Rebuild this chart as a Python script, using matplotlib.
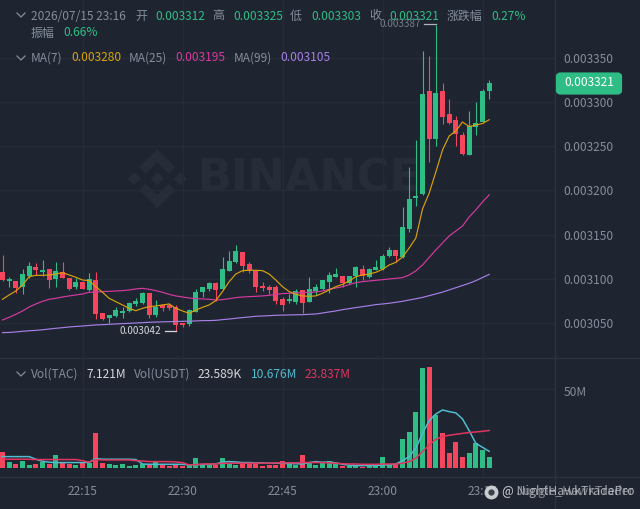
import matplotlib
matplotlib.use('Agg')
import matplotlib.pyplot as plt
import numpy as np
from matplotlib.patches import FancyBboxPatch, Polygon
from matplotlib.lines import Line2D
from matplotlib.transforms import ScaledTranslation

plt.rcParams['font.family'] = ['Noto Sans CJK SC', 'DejaVu Sans']

# minutes after 22:00, one candle per minute. prices are in 1e-6 units
minutes = list(range(3, 77))

opens = [3107.4, 3097.6, 3097.9, 3090.4, 3103.2, 3113.1, 3107.4, 3111.2, 3099.5, 3107.8,
         3101.0, 3090.4, 3096.5, 3087.4, 3098.7, 3061.0, 3056.0, 3058.0, 3061.4, 3063.7,
         3072.0, 3072.7, 3084.4, 3059.1, 3070.5, 3070.0, 3067.8, 3050.4, 3049.0, 3062.9,
         3085.5, 3088.2, 3095.5, 3088.2, 3109.2, 3119.0, 3130.0, 3116.5, 3109.2, 3092.3,
         3091.2, 3091.2, 3077.6, 3074.6, 3073.8, 3087.1, 3074.2, 3086.6, 3088.2, 3096.8,
         3102.4, 3103.2, 3095.7, 3103.0, 3111.2, 3102.4, 3110.0, 3110.8, 3125.9, 3132.6,
         3125.0, 3156.0, 3191.0, 3196.0, 3312.0, 3257.8, 3312.0, 3287.0, 3279.7, 3262.7,
         3240.0, 3271.4, 3277.4, 3312.0]
highs = [3127.0, 3102.4, 3098.0, 3110.8, 3118.7, 3118.3, 3121.3, 3111.2, 3118.7, 3118.7,
         3101.0, 3101.3, 3098.0, 3106.3, 3107.4, 3061.5, 3059.0, 3067.9, 3068.5, 3073.5,
         3078.7, 3085.0, 3084.4, 3076.0, 3071.6, 3072.5, 3070.0, 3050.4, 3065.5, 3088.0,
         3090.4, 3096.0, 3096.0, 3124.4, 3131.5, 3138.0, 3130.0, 3118.7, 3110.0, 3096.8,
         3093.4, 3093.5, 3079.0, 3082.9, 3088.2, 3087.1, 3101.8, 3094.2, 3099.0, 3107.4,
         3112.6, 3103.2, 3103.5, 3114.0, 3115.7, 3112.0, 3121.3, 3128.0, 3135.7, 3132.6,
         3181.0, 3226.8, 3257.0, 3358.0, 3352.0, 3387.0, 3322.0, 3303.0, 3284.0, 3266.5,
         3290.0, 3300.0, 3314.5, 3325.0]
lows = [3098.0, 3090.4, 3084.0, 3083.0, 3100.7, 3104.4, 3103.2, 3090.0, 3091.2, 3101.0,
        3087.4, 3088.9, 3088.0, 3086.6, 3054.6, 3053.0, 3049.7, 3057.0, 3055.7, 3062.5,
        3069.0, 3072.0, 3056.0, 3057.0, 3063.7, 3065.0, 3041.0, 3046.0, 3047.0, 3062.5,
        3080.0, 3086.0, 3075.0, 3087.4, 3108.6, 3118.3, 3107.4, 3106.3, 3085.5, 3086.0,
        3083.0, 3072.0, 3064.0, 3072.4, 3071.6, 3061.0, 3073.8, 3081.4, 3087.4, 3084.3,
        3102.0, 3091.0, 3094.0, 3091.0, 3098.7, 3101.5, 3109.7, 3110.0, 3125.0, 3118.7,
        3124.0, 3153.0, 3182.8, 3195.0, 3231.8, 3250.0, 3275.0, 3275.0, 3250.0, 3240.0,
        3240.0, 3262.7, 3277.0, 3303.0]
closes = [3098.7, 3099.5, 3089.3, 3105.5, 3114.5, 3110.0, 3109.7, 3098.4, 3108.9, 3101.3,
          3089.0, 3096.5, 3089.0, 3100.2, 3060.3, 3054.3, 3059.0, 3064.4, 3063.3, 3072.7,
          3075.0, 3084.4, 3059.5, 3068.5, 3067.0, 3066.5, 3047.8, 3048.2, 3064.8, 3085.1,
          3090.4, 3095.0, 3087.8, 3110.8, 3120.2, 3131.5, 3114.5, 3109.2, 3091.2, 3089.7,
          3087.4, 3075.3, 3070.8, 3077.2, 3086.3, 3073.0, 3088.9, 3090.4, 3098.4, 3104.4,
          3105.5, 3095.0, 3103.2, 3113.4, 3103.0, 3111.2, 3113.4, 3126.2, 3132.6, 3125.9,
          3158.3, 3190.0, 3193.5, 3308.7, 3257.8, 3310.5, 3283.4, 3276.6, 3263.5, 3241.2,
          3273.0, 3276.0, 3312.0, 3321.0]

ma7 = [3076.9, 3081.8, 3086.3, 3093.1, 3102.5, 3104.0, 3104.0, 3104.4, 3105.5, 3107.0,
       3104.4, 3101.8, 3098.7, 3098.0, 3091.2, 3084.8, 3078.0, 3074.2, 3070.5, 3066.7,
       3064.0, 3066.7, 3068.6, 3069.3, 3070.5, 3071.6, 3066.7, 3063.7, 3061.0, 3064.8,
       3067.8, 3070.5, 3075.4, 3085.6, 3096.9, 3105.5, 3109.3, 3109.7, 3109.7, 3109.3,
       3105.5, 3098.7, 3091.2, 3085.6, 3082.5, 3080.7, 3080.3, 3080.7, 3083.7, 3087.4,
       3091.2, 3093.8, 3097.6, 3102.5, 3104.4, 3105.5, 3107.4, 3110.8, 3115.7, 3118.7,
       3124.7, 3134.9, 3146.2, 3179.0, 3197.0, 3220.9, 3245.7, 3261.6, 3267.2, 3277.4,
       3272.3, 3274.0, 3275.7, 3280.0]
ma25 = [3053.5, 3056.5, 3059.9, 3063.7, 3068.2, 3071.6, 3074.6, 3076.9, 3078.0, 3079.5,
        3080.7, 3081.8, 3082.9, 3084.8, 3085.2, 3085.6, 3085.9, 3086.3, 3086.7, 3087.4,
        3088.6, 3089.3, 3088.2, 3086.7, 3084.8, 3082.5, 3080.7, 3079.5, 3078.4, 3077.6,
        3077.3, 3076.9, 3076.1, 3076.5, 3077.6, 3078.8, 3079.5, 3079.9, 3080.3, 3080.7,
        3081.4, 3082.5, 3083.3, 3083.7, 3084.0, 3084.4, 3084.8, 3085.2, 3086.3, 3088.2,
        3089.7, 3091.2, 3093.5, 3095.7, 3096.9, 3097.6, 3098.4, 3099.1, 3099.9, 3100.6,
        3101.4, 3104.4, 3109.0, 3115.7, 3124.2, 3132.7, 3140.6, 3148.5, 3154.1, 3159.8,
        3170.0, 3178.0, 3187.0, 3195.0]
ma99 = [3039.2, 3039.4, 3040.0, 3040.7, 3041.3, 3041.8, 3042.4, 3043.3, 3044.1, 3044.8,
        3045.6, 3046.2, 3046.7, 3047.3, 3047.9, 3048.2, 3048.6, 3049.0, 3049.4, 3049.7,
        3050.1, 3050.5, 3050.9, 3051.2, 3051.4, 3051.6, 3051.8, 3052.0, 3052.2, 3052.4,
        3052.8, 3052.8, 3053.1, 3053.9, 3054.6, 3055.4, 3056.2, 3056.9, 3057.7, 3058.0,
        3058.4, 3058.8, 3059.0, 3059.2, 3059.4, 3059.5, 3059.9, 3060.3, 3061.4, 3062.6,
        3063.7, 3065.2, 3066.3, 3067.5, 3068.6, 3069.7, 3070.9, 3071.6, 3072.4, 3073.5,
        3074.6, 3076.1, 3077.5, 3079.0, 3081.0, 3083.0, 3085.0, 3087.5, 3090.0, 3092.5,
        3095.0, 3098.0, 3101.5, 3105.0]

# volume in millions
volumes = [10.3, 4.2, 2.9, 4.8, 1.9, 2.5, 4.2, 2.7, 8.2, 3.6,
           2.7, 1.9, 3.2, 3.2, 22.5, 3.2, 2.5, 2.3, 2.7, 1.3,
           1.9, 2.7, 2.5, 4.6, 2.5, 1.5, 2.1, 1.7, 2.1, 6.3,
           2.5, 2.1, 2.3, 6.7, 2.9, 2.3, 3.2, 2.7, 2.5, 1.5,
           1.9, 1.9, 4.6, 3.8, 1.9, 8.2, 3.2, 2.1, 3.2, 4.6,
           3.2, 1.5, 1.7, 1.7, 1.1, 2.1, 1.9, 7.4, 2.5, 2.5,
           18.3, 22.9, 35.5, 63.2, 63.8, 33.6, 22.0, 9.9, 16.6, 7.1,
           9.5, 15.8, 11.6, 7.121]
vol_short = [7.35, 7.35, 7.35, 7.35, 7.35, 5.7, 4.4, 3.8, 3.6, 3.6,
             3.6, 3.6, 3.6, 3.8, 6.1, 5.7, 5.7, 5.7, 5.7, 5.7,
             5.5, 2.7, 2.5, 2.5, 2.5, 2.5, 2.5, 2.5, 2.1, 2.3,
             2.3, 2.5, 2.7, 4.0, 4.2, 4.0, 3.6, 3.6, 3.4, 3.4,
             3.2, 3.2, 3.2, 2.9, 2.9, 2.7, 3.6, 4.2, 3.8, 4.0,
             3.4, 2.5, 1.9, 1.7, 1.7, 1.7, 1.7, 2.1, 2.1, 2.7,
             4.8, 7.35, 12.6, 22.0, 30.0, 34.2, 36.75, 35.7, 34.9, 31.1,
             23.7, 15.75, 13.2, 10.676]
vol_long = [5.7, 5.7, 5.7, 5.7, 5.7, 5.5, 5.5, 5.5, 5.5, 5.5,
            5.5, 5.5, 4.8, 3.8, 5.5, 5.25, 5.25, 5.25, 5.25, 5.25,
            4.8, 4.6, 4.2, 4.2, 4.2, 4.2, 4.0, 3.6, 2.1, 2.3,
            2.7, 2.7, 2.7, 3.15, 3.15, 3.15, 3.2, 3.2, 3.2, 3.2,
            3.2, 3.4, 3.4, 3.4, 3.4, 3.6, 3.6, 3.6, 3.6, 3.4,
            3.15, 2.9, 2.7, 2.7, 2.5, 2.5, 2.5, 2.7, 2.7, 2.7,
            3.15, 4.2, 6.3, 10.5, 14.7, 18.3, 19.95, 20.8, 21.4, 22.0,
            22.5, 22.9, 23.3, 23.837]

price_ticks = [3050, 3100, 3150, 3200, 3250, 3300, 3350]
price_labels = ['0.003050', '0.003100', '0.003150', '0.003200', '0.003250', '0.003300', '0.003350']
time_ticks = [15, 30, 45, 60, 75]
time_labels = ['22:15', '22:30', '22:45', '23:00', '23:15']

BG = '#1e2530'
GRID = '#252c37'
SEP = '#2c333e'
GRAY = '#848e9c'
GREEN = '#2ebd85'
RED = '#f6465d'
YELLOW = '#d9a20c'
PINK = '#d63aa0'
PURPLE = '#a67fe6'
CYAN = '#4fbcd0'
VOLRED = '#e0355f'

W, H = 640, 509


def fx(x):
    return x / W


def fy(y):
    return 1 - y / H


fig = plt.figure(figsize=(6.4, 5.09), dpi=100, facecolor=BG)
ax = fig.add_axes([0, fy(358), fx(555), 358 / H], facecolor='none')
vax = fig.add_axes([0, fy(477), fx(555), (477 - 358) / H], facecolor='none')

m = np.array(minutes)
o = np.array(opens)
c = np.array(closes)
up = c >= o
colors = [GREEN if u else RED for u in up]

# candles
ax.vlines(m, lows, highs, colors=colors, lw=0.8, zorder=2)
ax.bar(m, np.maximum(np.abs(c - o), 1.0), bottom=np.minimum(o, c), width=0.72, color=colors, zorder=3)
ax.plot(m, ma99, color=PURPLE, lw=0.85, zorder=4)
ax.plot(m, ma25, color=PINK, lw=0.85, zorder=4)
ax.plot(m, ma7, color=YELLOW, lw=0.85, zorder=4)

ax.set_xlim(2.625, 85.875)
ax.set_ylim(3010.5, 3415.4)
ax.set_xticks(time_ticks)
ax.set_yticks(price_ticks)
ax.set_yticklabels(price_labels)
ax.yaxis.tick_right()
ax.tick_params(axis='x', length=0, labelbottom=False)
ax.tick_params(axis='y', length=0, pad=6, labelsize=8.6, labelcolor=GRAY)
ax.grid(True, color=GRID, lw=1, zorder=0)
ax.set_axisbelow(True)
for s in ax.spines.values():
    s.set_visible(False)

# high / low marks
fig.text(fx(380), fy(24), '0.003387', color=GRAY, fontsize=7.2, va='center', alpha=0.85)
fig.add_artist(Line2D([fx(424), fx(436)], [fy(24), fy(24)], color='#b0b5bd', lw=0.9))
fig.text(fx(120), fy(331), '0.003042', color='#d5d8dc', fontsize=7.2, va='center')
fig.add_artist(Line2D([fx(165), fx(176)], [fy(331), fy(331)], color='#d5d8dc', lw=0.9))

# volume
vax.bar(m, volumes, width=0.72, color=colors, zorder=2)
vax.plot(m, vol_short, color=CYAN, lw=1.1, zorder=3)
vax.plot(m, vol_long, color=VOLRED, lw=1.1, zorder=3)
vax.set_xlim(2.625, 85.875)
vax.set_ylim(-5.5, 69.5)
vax.set_xticks(time_ticks)
vax.set_xticklabels(time_labels)
vax.set_yticks([50])
vax.set_yticklabels(['50M'])
vax.yaxis.tick_right()
vax.tick_params(axis='x', length=0, pad=6, labelsize=8.6, labelcolor=GRAY)
vax.tick_params(axis='y', length=0, pad=6, labelsize=8.6, labelcolor=GRAY)
vax.grid(True, color=GRID, lw=1, zorder=0)
vax.set_axisbelow(True)
for s in vax.spines.values():
    s.set_visible(False)
for lab in vax.get_yticklabels():
    lab.set_transform(lab.get_transform() + ScaledTranslation(0, -2 / 100, fig.dpi_scale_trans))

# panel separators
for yy in [358, 477]:
    fig.add_artist(Line2D([0, 1], [fy(yy), fy(yy)], color=SEP, lw=1, zorder=-1))
fig.add_artist(Line2D([fx(555), fx(555)], [0, 1], color=SEP, lw=1, zorder=-1))

# watermark
wm = '#272d38'
fig.text(fx(198), fy(178.5), 'BINANCE', color=wm, fontsize=32, fontweight='bold',
         family='DejaVu Sans', va='center', zorder=-1)
cx, cy = 157.3, 178.7
top = [(0, -29.5), (18, -11.5), (11.5, -5), (0, -16.5), (-11.5, -5), (-18, -11.5)]
shapes = [top, [(a, -b) for a, b in top]]
for dx in [-23, 0, 23]:
    shapes.append([(dx, -6.7), (dx + 6.7, 0), (dx, 6.7), (dx - 6.7, 0)])
for pts in shapes:
    fig.add_artist(Polygon([(fx(cx + a), fy(cy + b)) for a, b in pts], closed=True,
                           transform=fig.transFigure, color=wm, lw=0, zorder=-1))

# last price tag
fig.add_artist(FancyBboxPatch((fx(558), fy(92.5)), fx(62), 18 / H,
                              boxstyle='round,pad=0,rounding_size=0.004',
                              transform=fig.transFigure, fc=GREEN, ec=GREEN, lw=3, mutation_aspect=1.0))
fig.text(fx(589), fy(83), '0.003321', color='white', fontsize=8.6, ha='center', va='center')


def row(y, items):
    for x, s, col in items:
        fig.text(fx(x), fy(y), s, color=col, fontsize=8.6, va='center')


row(16, [(31, '2026/07/15 23:16', GRAY), (135, '开', GRAY), (155, '0.003312', GREEN),
         (212, '高', GRAY), (233, '0.003325', GREEN), (290, '低', GRAY), (311, '0.003303', GREEN),
         (369, '收', GRAY), (389, '0.003321', GREEN), (447, '涨跌幅', GRAY), (491, '0.27%', GREEN)])
row(33, [(31, '振幅', GRAY), (63, '0.66%', GREEN)])
row(58, [(31, 'MA(7)', GRAY), (71, '0.003280', YELLOW), (129, 'MA(25)', GRAY), (175, '0.003195', PINK),
         (234, 'MA(99)', GRAY), (280, '0.003105', PURPLE)])
row(374, [(31, 'Vol(TAC)', GRAY), (86, '7.121M', '#d5d8dc'), (134, 'Vol(USDT)', GRAY),
          (198, '23.589K', '#d5d8dc'), (251, '10.676M', CYAN), (305, '23.837M', VOLRED)])

# chevrons
for yy in [15, 58, 374]:
    fig.add_artist(Line2D([fx(17), fx(21), fx(25)], [fy(yy - 2), fy(yy + 2), fy(yy - 2)], color=GRAY, lw=0.9))

# repost watermark, two handles printed over each other
fig.add_artist(Line2D([fx(491)], [fy(492)], marker='o', ms=9, color='#c9ccd1', lw=0))
fig.add_artist(Line2D([fx(491)], [fy(492)], marker='o', ms=3.5, color='#3a4049', lw=0))
fig.text(fx(502), fy(492), '@ NightHawkTradePro', color='#c4c8ce', fontsize=8.9, va='center', alpha=0.8)
fig.text(fx(502), fy(492), '@ Jungle_HawkTrader', color='#c4c8ce', fontsize=8.9, va='center', alpha=0.6)

fig.savefig('out.png', dpi=100, facecolor=BG)
